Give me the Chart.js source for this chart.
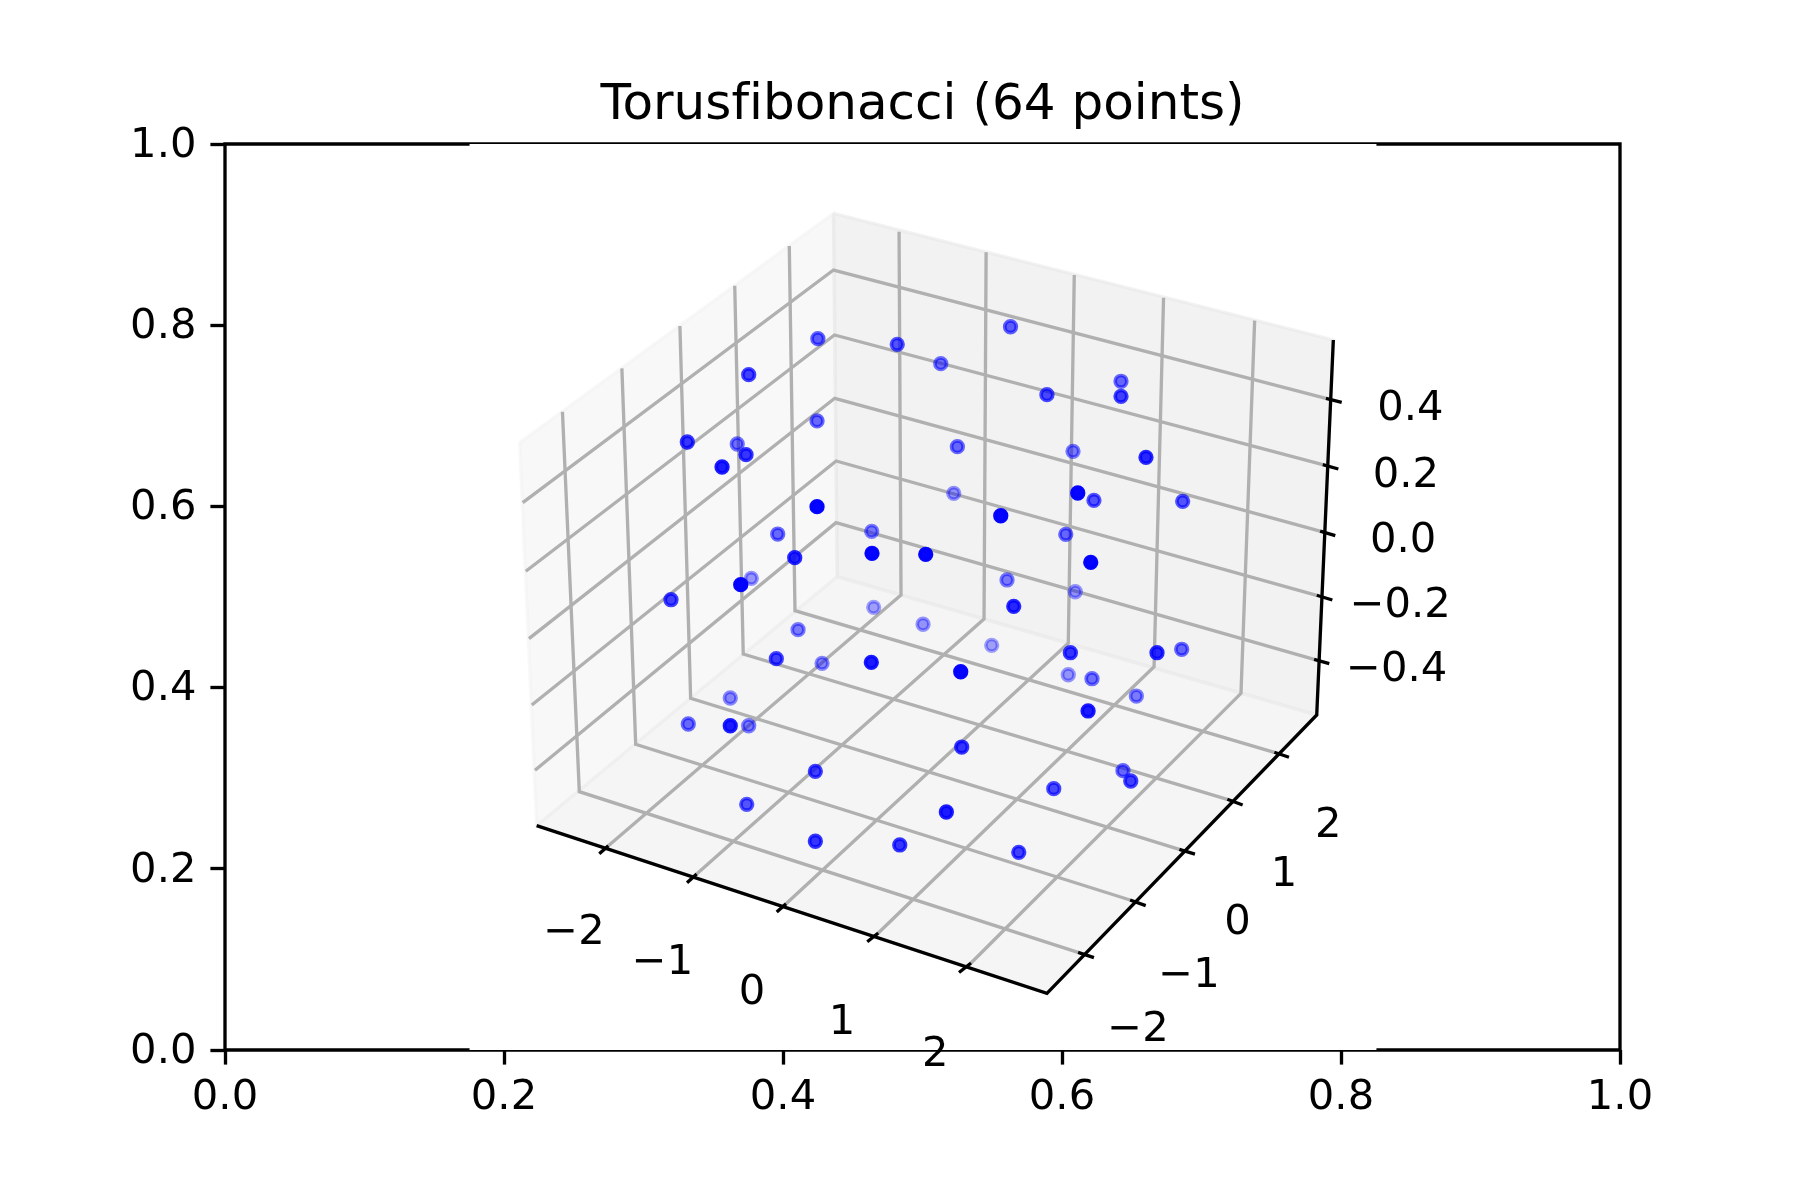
<!DOCTYPE html>
<html><head><meta charset="utf-8">
<style>html,body{margin:0;padding:0;background:#fff}canvas{display:block}</style>
<script src="https://cdn.jsdelivr.net/npm/chart.js@4/dist/chart.umd.min.js"></script>
</head><body><canvas id="c" width="1800" height="1200"></canvas>
<script>
// All positions below are axes-fraction values (0..1) of the outer 2D axes.
const chartTitle = 'Torusfibonacci (64 points)';
const axisTicks = [0, 0.2, 0.4, 0.6, 0.8, 1.0];

const pointsX = [.4244,.3314,.3672,.3735,.3563,.4244,.3962,.4636,.4084,.4638,.3773,.3697,.3197,.4650,.4108,.3952,.4280,.4633,.3622,.3321,.3622,.3754,.4232,.3740,.4232,
 .5250,.6079,.6602,.5224,.6113,.6229,.6865,.5561,.6027,.5023,.6206,.5606,.6095,.5654,.5004,.5496,.6060,.6681,.6858,.5274,.6045,.6215,.6533,.6187,.5281,.6437,.6493,.5941,.5171,.4837,.5690,
 .3754,.4250,.4819,.5631,.5131,.5892,.6423,.6423];
const pointsY = [.6943,.6711,.6689,.6571,.6435,.5997,.5695,.5725,.5434,.5482,.5206,.5136,.4970,.4886,.4639,.4319,.4268,.4279,.3885,.3598,.3579,.3579,.3076,.2712,.2304,
 .6659,.6608,.6542,.6144,.6148,.6067,.6056,.5897,.5692,.5471,.5383,.5188,.5058,.4897,.4699,.4467,.4385,.4385,.4423,.4175,.4142,.4098,.3907,.3742,.3344,.3083,.2969,.2884,.2627,.2263,.2182,
 .7454,.7851,.7789,.7983,.7575,.7233,.7381,.7215];
const pointAlphas = [.58,.79,.55,.79,.89,.98,.58,.5,.84,.98,.4,.98,.74,.35,.5,.74,.45,.89,.45,.58,.89,.5,.74,.66,.79,
 .58,.5,.84,.4,.98,.66,.66,.98,.58,.98,.98,.5,.4,.84,.4,.35,.79,.84,.58,.98,.4,.55,.5,.89,.79,.58,.74,.7,.89,.79,.74,
 .74,.62,.66,.62,.55,.7,.58,.74];

const paneLeft  = [[.2112,.6703],[.4362,.9235],[.4389,.5224],[.2234,.2476],[.2112,.6703]];
const paneRight = [[.4362,.9235],[.7945,.7837],[.7826,.3698],[.4389,.5224],[.4362,.9235]];
const paneFloor = [[.2234,.2476],[.4389,.5224],[.7826,.3698],[.5892,.0626],[.2234,.2476]];
const patch3d   = [[.1753,0],[.8254,0],[.8254,1],[.1753,1],[.1753,0]];
const frame2d   = [[0,0],[1,0],[1,1],[0,1],[0,0]];

const gridX = [
 [[.4832,.9032],[.4846,.5022],[.2748,.2255]],
 [[.5456,.8805],[.5441,.4757],[.3381,.1943]],
 [[.6088,.8554],[.6045,.4489],[.4022,.1615]],
 [[.6728,.8303],[.6660,.4231],[.4683,.1291]],
 [[.7381,.8050],[.7283,.3937],[.5348,.0960]]];
const gridY = [
 [[.2419,.7045],[.2540,.2851],[.6115,.1078]],
 [[.2845,.7524],[.2944,.3374],[.6488,.1656]],
 [[.3261,.7991],[.3338,.3882],[.6841,.2215]],
 [[.3654,.8436],[.3715,.4371],[.7185,.2767]],
 [[.4045,.8874],[.4086,.4849],[.7522,.3286]]];
const gridZ = [
 [[.2134,.6041],[.4362,.8609],[.7892,.7193]],
 [[.2156,.5284],[.4369,.7892],[.7869,.6460]],
 [[.2179,.4540],[.4371,.7193],[.7850,.5728]],
 [[.2199,.3808],[.4381,.6501],[.7826,.5019]],
 [[.2222,.3087],[.4380,.5820],[.7807,.4312]]];

const axisLine3d = [[.2234,.2476],[.5892,.0626],[.7826,.3698],[.7945,.7837]];
const ticks3d = [
 [[.2683,.2167],[.2748,.2255]],[[.3312,.1847],[.3381,.1943]],[[.3955,.1523],[.4022,.1615]],[[.4604,.1195],[.4683,.1291]],[[.5262,.0855],[.5348,.0960]],
 [[.6115,.1078],[.6229,.1019]],[[.6488,.1656],[.6600,.1593]],[[.6841,.2215],[.6953,.2163]],[[.7185,.2767],[.7295,.2704]],[[.7522,.3286],[.7627,.3231]],
 [[.7892,.7193],[.8005,.7149]],[[.7869,.6460],[.7981,.6413]],[[.7850,.5728],[.7959,.5677]],[[.7826,.5019],[.7938,.4967]],[[.7807,.4312],[.7916,.4264]]];

const labels3d = ['\u22122','\u22121','0','1','2', '2','1','0','\u22121','\u22122', '0.4','0.2','0.0','\u22120.2','\u22120.4'];
const labels3dX = [.2502,.3136,.3778,.4423,.5092, .7909,.7591,.7258,.6911,.6545, .8497,.8465,.8445,.8425,.8399];
const labels3dY = [.1167,.0836,.0508,.0177,-.0173, .2354,.1813,.1277,.0699,.0103, .6954,.6217,.5497,.4783,.4073];

const FONT = '"DejaVu Sans"';
const toXY = a => a.map(p => ({x: p[0], y: p[1]}));
const lineDs = (pts, color, width, order, extra) => Object.assign({
  type: 'scatter', data: toXY(pts), showLine: true, pointRadius: 0, borderColor: color,
  borderWidth: width, order, tension: 0, clip: false, borderCapStyle: 'butt', borderJoinStyle: 'miter', fill: false
}, extra || {});
const shapeDs = (pts, fillColor, strokeColor, strokeWidth, order) =>
  lineDs(pts, strokeColor, strokeWidth, order, {fill: 'shape', backgroundColor: fillColor});

const drawOrder = pointAlphas.map((_, i) => i).sort((a, b) => pointAlphas[a] - pointAlphas[b]);

const datasets = [
  lineDs(frame2d, '#000', 3.33, 20),
  shapeDs(patch3d, '#fff', 'rgba(0,0,0,0)', 0, 19),
  shapeDs(paneLeft,  'rgba(242,242,242,0.5)', 'rgba(242,242,242,0.5)', 3.33, 18),
  shapeDs(paneRight, 'rgba(230,230,230,0.5)', 'rgba(230,230,230,0.5)', 3.33, 17),
  shapeDs(paneFloor, 'rgba(236,236,236,0.5)', 'rgba(236,236,236,0.5)', 3.33, 16),
  ...[...gridX, ...gridY, ...gridZ].map(g => lineDs(g, '#b0b0b0', 3.33, 10)),
  lineDs(axisLine3d, '#000', 3.33, 5),
  ...ticks3d.map(t => lineDs(t, '#000', 3.33, 4)),
  {
    type: 'scatter', order: 1, showLine: false, clip: false,
    data: drawOrder.map(i => ({x: pointsX[i], y: pointsY[i]})),
    pointRadius: 5.8, pointBorderWidth: 3.7,
    pointBackgroundColor: drawOrder.map(i => `rgba(0,0,255,${pointAlphas[i]})`),
    pointBorderColor: drawOrder.map(i => `rgba(0,0,255,${pointAlphas[i]})`)
  }
];

const textPlugin = {
  id: 'labels3d',
  beforeDraw(chart) { chart.ctx.letterSpacing = '0.01px'; },
  afterDatasetsDraw(chart) {
    const {ctx, scales: {x, y}} = chart;
    ctx.save();
    ctx.font = '41.67px ' + FONT;
    ctx.fillStyle = '#000';
    ctx.textAlign = 'center';
    ctx.textBaseline = 'alphabetic';
    labels3d.forEach((t, i) => ctx.fillText(t, x.getPixelForValue(labels3dX[i]), y.getPixelForValue(labels3dY[i])));
    ctx.restore();
  }
};

const axisCommon = {
  type: 'linear', min: 0, max: 1,
  border: {display: false},
  grid: {drawOnChartArea: false, drawTicks: true, tickLength: 14.6, tickWidth: 3.33, tickColor: '#000'},
  afterBuildTicks(s) { s.ticks = axisTicks.map(v => ({value: v})); }
};

new Chart(document.getElementById('c'), {
  type: 'scatter',
  data: {datasets},
  plugins: [textPlugin],
  options: {
    responsive: false, animation: false, devicePixelRatio: 1,
    layout: {padding: {left: 0, right: 180, top: 0, bottom: 0}},
    plugins: {
      legend: {display: false}, tooltip: {enabled: false},
      title: {display: true, text: chartTitle, color: '#000', fullSize: false,
        font: {family: FONT, size: 50, weight: 'normal', lineHeight: 1.2},
        padding: {top: 76, bottom: 8}}
    },
    scales: {
      x: Object.assign({}, axisCommon, {
        afterFit(s) { s.height = 150; },
        ticks: {color: '#000', font: {family: FONT, size: 41.67}, padding: 9, maxRotation: 0, autoSkip: false,
          callback: v => v.toFixed(1)}
      }),
      y: Object.assign({}, axisCommon, {
        afterFit(s) { s.width = 225; },
        ticks: {color: '#000', font: {family: FONT, size: 41.67}, padding: 14, labelOffset: 2, autoSkip: false,
          callback: v => v.toFixed(1)}
      })
    }
  }
});
</script></body></html>
